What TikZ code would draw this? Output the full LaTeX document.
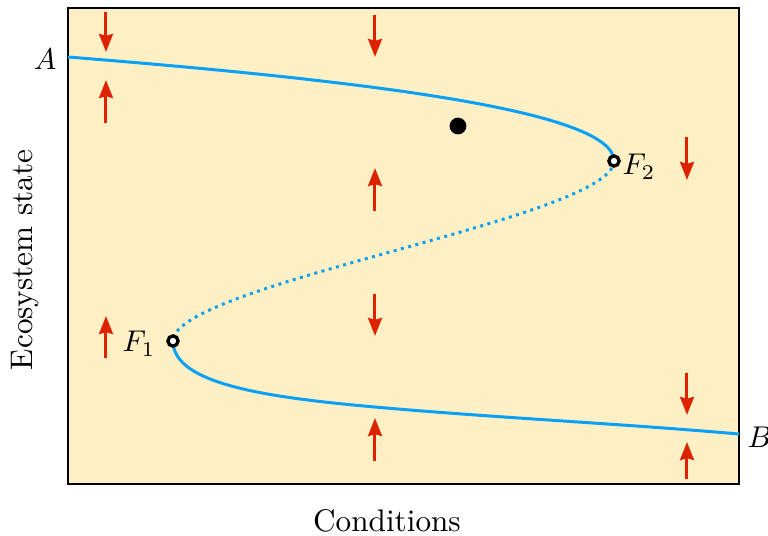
\documentclass[tikz,border=0pt]{standalone}
\usetikzlibrary{arrows.meta}
\definecolor{bgfill}{RGB}{254,239,196}
\definecolor{curveblue}{RGB}{10,160,245}
\definecolor{flowred}{RGB}{221,34,0}
\begin{document}
\begin{tikzpicture}[x=0.3333pt,y=-0.3333pt,
  font=\fontsize{10.4pt}{12.5pt}\selectfont,
  branch/.style={curveblue, line width=1pt},
  unstable/.style={curveblue, line width=1pt, dash pattern=on 1pt off 1.5pt},
  flow/.style={flowred, line width=1pt, -{Stealth[length=6pt,width=4.6pt,inset=0.6pt]}},
  fold/.style={circle, draw=black, fill=white, line width=1.1pt, inner sep=0pt, minimum size=3.4pt},
  lbl/.style={inner sep=0pt}]
\useasboundingbox (0,0) rectangle (768,536);
\draw[fill=bgfill, line width=0.6pt] (68,8) rectangle (739,484);
% branches
\coordinate (A) at (68,57);
\coordinate (F2) at (614,161);
\coordinate (F1) at (173,341);
\coordinate (M) at (386,408);
\coordinate (B) at (739,434);
\draw[branch] (A) .. controls (368,81) and (614,111) .. (F2);
\draw[unstable] (F2) .. controls (614,218) and (173,284) .. (F1);
\draw[branch] (F1) .. controls (173,385) and (270,398) .. (M) .. controls (506,418.3) and (619,423.6) .. (B);
\node[fold] (f2) at (F2) {};
\node[fold] (f1) at (F1) {};
\fill (458,126) circle[radius=2.8pt];
% flow arrows
\draw[flow] (106,12) -- (106,52);
\draw[flow] (106,123) -- (106,80);
\draw[flow] (106,358) -- (106,316);
\draw[flow] (375,15) -- (375,57);
\draw[flow] (375,211) -- (375,168);
\draw[flow] (375,294) -- (375,336);
\draw[flow] (375,461) -- (375,418);
\draw[flow] (687,137) -- (687,180);
\draw[flow] (687,373) -- (687,415);
\draw[flow] (687,479) -- (687,442);
% labels
\node[lbl, anchor=east] (la) at (57,59) {$A$};
\node[lbl, anchor=west] (lb) at (747,437) {$B$};
\node[lbl, anchor=base east] (lf1) at (156,352) {$F_1$};
\node[lbl, anchor=base west] (lf2) at (622,175) {$F_2$};
\node[lbl, rotate=90] (ly) at (25,260) {Ecosystem state};
\node[lbl] (lx) at (387,521) {Conditions};
\end{tikzpicture}
\end{document}
